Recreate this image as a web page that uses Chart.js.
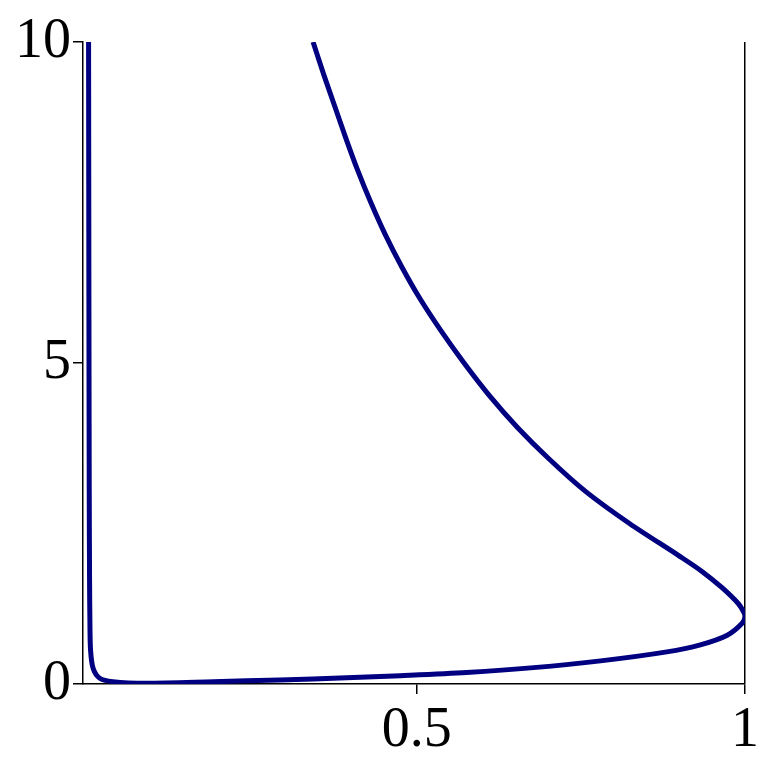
<!DOCTYPE html>
<html lang="en">
<head>
    <meta charset="UTF-8">
    <title>Curve</title>
    <style>
        html, body { margin: 0; padding: 0; background: #fff; }
        #wrap { width: 771px; height: 771px; }
    </style>
</head>
<body>
    <div id="wrap"><canvas id="curveChart" width="771" height="771"></canvas></div>

    <script src="https://cdn.jsdelivr.net/npm/chart.js"></script>
    <script>
        // points, in drawing order (top-left, down, right, up to the top)
        const curveX = [0.000, 0.0005, 0.001, 0.0015, 0.002, 0.003, 0.007, 0.017, 0.037, 0.088,
                        0.190, 0.291, 0.393, 0.475, 0.576, 0.678, 0.780, 0.881, 0.932, 0.973,
                        0.996, 1.000, 0.998, 0.990, 0.965, 0.935, 0.899, 0.824, 0.757, 0.702,
                        0.653, 0.610, 0.572, 0.537, 0.505, 0.477, 0.452, 0.430, 0.410, 0.392,
                        0.375, 0.358, 0.342];
        const curveY = [10.0, 6.0, 3.0, 1.6, 1.0, 0.53, 0.24, 0.09, 0.036, 0.012,
                        0.036, 0.064, 0.096, 0.13, 0.18, 0.255, 0.36, 0.50, 0.61, 0.76,
                        0.95, 1.05, 1.12, 1.25, 1.50, 1.75, 2.00, 2.50, 3.00, 3.50,
                        4.00, 4.50, 5.00, 5.50, 6.00, 6.50, 7.00, 7.50, 8.00, 8.50,
                        9.00, 9.50, 10.0];
        const xTicks = [0.5, 1];
        const yTicks = [0, 5, 10];
        const xLabels = ['0.5', '1'];
        const yLabels = ['0', '5', '10'];

        const points = curveX.map((x, i) => ({ x: x, y: curveY[i] }));

        const tickFont = { family: '"Liberation Serif", "DejaVu Serif", serif', size: 56 };

        const ctx = document.getElementById('curveChart').getContext('2d');
        new Chart(ctx, {
            type: 'scatter',
            data: {
                datasets: [{
                    data: points,
                    showLine: true,
                    borderColor: '#000080',
                    borderWidth: 5,
                    pointRadius: 0,
                    tension: 0.3,
                    fill: false
                }]
            },
            options: {
                responsive: false,
                animation: false,
                layout: { padding: { left: 0, right: 26, top: 42, bottom: 0 } },
                plugins: {
                    legend: { display: false },
                    tooltip: { enabled: false }
                },
                scales: {
                    x: {
                        type: 'linear',
                        min: -0.0085,
                        max: 1,
                        afterBuildTicks: (scale) => { scale.ticks = xTicks.map(v => ({ value: v })); },
                        afterFit: (scale) => { scale.height = 87; },
                        ticks: {
                            color: '#000',
                            font: tickFont,
                            padding: 4,
                            maxRotation: 0,
                            autoSkip: false,
                            callback: (v) => xLabels[xTicks.indexOf(v)]
                        },
                        grid: {
                            drawOnChartArea: true,
                            drawTicks: true,
                            tickLength: 10,
                            lineWidth: 1.5,
                            color: (c) => (c.tick && c.tick.value === 1 ? '#000' : 'rgba(0,0,0,0)'),
                            tickColor: '#000'
                        },
                        border: { display: true, color: '#000', width: 1.5 }
                    },
                    y: {
                        type: 'linear',
                        min: 0,
                        max: 10,
                        afterBuildTicks: (scale) => { scale.ticks = yTicks.map(v => ({ value: v })); },
                        afterFit: (scale) => { scale.width = 83; },
                        ticks: {
                            color: '#000',
                            font: tickFont,
                            padding: 2,
                            autoSkip: false,
                            callback: (v) => yLabels[yTicks.indexOf(v)]
                        },
                        grid: {
                            drawOnChartArea: false,
                            drawTicks: true,
                            tickLength: 10,
                            lineWidth: 1.5,
                            color: '#000'
                        },
                        border: { display: true, color: '#000', width: 1.5 }
                    }
                }
            }
        });
    </script>
</body>
</html>
